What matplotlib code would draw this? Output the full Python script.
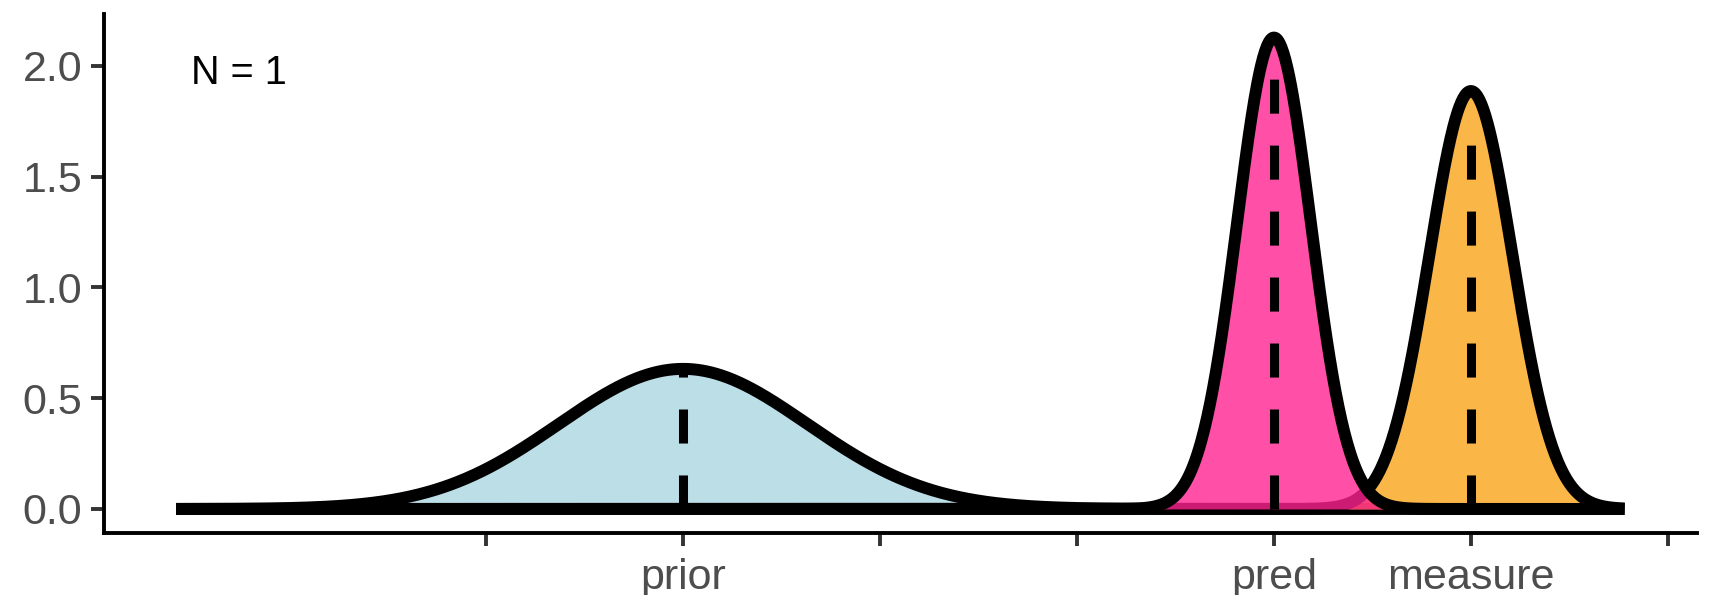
import numpy as np
import matplotlib.pyplot as plt

plt.rcParams['font.family'] = ['Liberation Sans', 'DejaVu Sans']
plt.rcParams['lines.scale_dashes'] = False

# distributions (position on the x scale, peak sd)
names = ['prior', 'measure', 'pred']
means = [1.0, 5.0, 4.0]
sds = [0.631, 0.2115, 0.1875]
seg_heights = [0.632, 1.72, 2.0]
fill_colors = ['#ABD6E2', '#F9A51A', '#FF2390']

x_lo, x_hi = -1.574, 5.78
tick_pos = [0, 1, 2, 3, 4, 5, 6]
tick_labels = ['', 'prior', '', '', 'pred', 'measure', '']
note = 'N = 1'

x = np.linspace(x_lo, x_hi, 1500)
dens = [np.exp(-0.5 * ((x - m) / s) ** 2) / (s * np.sqrt(2 * np.pi))
        for m, s in zip(means, sds)]

fig = plt.figure(figsize=(17.11, 5.95), dpi=100)
ax = fig.add_axes([0.0606, 0.105, 0.9312, 0.8715])

for i, (d, c) in enumerate(zip(dens, fill_colors)):
    ax.fill_between(x, 0, d, color=c, alpha=0.8, lw=0, zorder=2 + i)
    ax.plot(x, d, color='black', lw=8.6, solid_capstyle='butt',
            solid_joinstyle='round', zorder=2 + i)

for m, h in zip(means, seg_heights):
    ax.plot([m, m], [0, h], color='black', lw=6.5, dash_capstyle='butt',
            linestyle=(0, (24.5, 23)), zorder=6)

ax.text(-1.5, 1.917, note, fontsize=28.5, color='black', ha='left', va='baseline')

ymax = max(d.max() for d in dens)
span = x_hi - x_lo
ax.set_xlim(x_lo - 0.05 * span, x_hi + 0.05 * span)
ax.set_ylim(-0.05 * ymax, 1.05 * ymax)

ax.set_xticks(tick_pos)
ax.set_xticklabels(tick_labels)
ax.set_yticks([0, 0.5, 1.0, 1.5, 2.0])
ax.set_yticklabels(['0.0', '0.5', '1.0', '1.5', '2.0'])
ax.tick_params(axis='both', labelsize=31, labelcolor='#4D4D4D', color='#333333',
               width=2.8, length=9.5)
ax.tick_params(axis='y', pad=6)
ax.tick_params(axis='x', pad=9)

for side in ['top', 'right']:
    ax.spines[side].set_visible(False)
for side in ['left', 'bottom']:
    ax.spines[side].set_linewidth(2.8)
    ax.spines[side].set_color('black')

fig.savefig('out.png', dpi=100)
